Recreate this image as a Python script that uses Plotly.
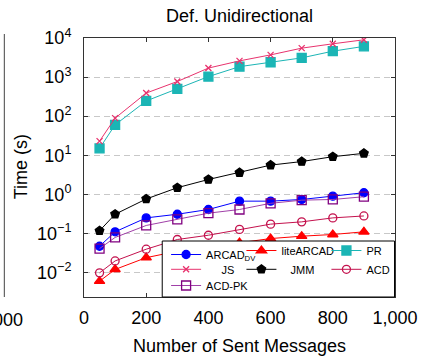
import plotly.graph_objects as go

# ---------------- data ----------------
messages = [50, 100, 200, 300, 400, 500, 600, 700, 800, 900]
arcad_dv = [0.047, 0.11, 0.25, 0.31, 0.41, 0.67, 0.67, 0.74, 0.90, 1.10]
lite_arcad = [0.006, 0.012, 0.024, 0.035, 0.045, 0.058, 0.074, 0.085, 0.094, 0.11]
pr = [15, 60, 245, 500, 1030, 1850, 2400, 3100, 4600, 6100]
js = [23, 89, 390, 770, 1700, 2600, 3700, 5500, 7100, 9000]
jmm = [0.117, 0.31, 0.76, 1.48, 2.4, 3.6, 5.6, 6.9, 9.2, 11.2]
acd = [0.0098, 0.0198, 0.0395, 0.070, 0.090, 0.127, 0.173, 0.198, 0.25, 0.28]
acd_pk = [0.041, 0.079, 0.16, 0.23, 0.33, 0.41, 0.59, 0.71, 0.74, 0.87]

x_ticks = [0, 200, 400, 600, 800, 1000]
x_tick_labels = ["0", "200", "400", "600", "800", "1,000"]
y_ticks = [1e-2, 1e-1, 1e0, 1e1, 1e2, 1e3, 1e4]
y_tick_labels = ["10<sup>\u22122</sup>", "10<sup>\u22121</sup>", "10<sup>0</sup>",
                 "10<sup>1</sup>", "10<sup>2</sup>", "10<sup>3</sup>", "10<sup>4</sup>"]

# ---------------- geometry ----------------
W, H = 430, 357
L, R, T, B = 84, 24, 38, 60
PW, PH = W - L - R, H - T - B
def px(x):
    return (x - L) / PW
def py(y):
    return (H - B - y) / PH

FONT = "Liberation Sans, Arial, Helvetica, sans-serif"
NB = "\u00a0"

# legend grid (pixel positions of the marker in each legend cell)
COLS = [184, 262, 350]
ROWS = [250.5, 269.3, 285.5]
MARK_OFF = 15

series = [
    # values, line color, symbol, size, marker color, legend text, col, row, y-nudge
    (arcad_dv, "#0000ff", "circle", 8, "#0000ff", "ARCAD<sub>DV</sub>", 0, 0, 4),
    (lite_arcad, "#ff0000", "triangle-up", 9, "#ff0000", "liteARCAD", 1, 0, 0),
    (pr, "#1bb5b5", "square", 9, "#1bb5b5", "PR", 2, 0, 0),
    (js, "#e8336e", "x-thin", 6, "#e8336e", NB * 5 + "JS", 0, 1, 0),
    (jmm, "#000000", "pentagon", 9, "#000000", NB * 3 + "JMM", 1, 1, 0),
    (acd, "#c4114d", "circle-open", 8, "#c4114d", "ACD", 2, 1, 0),
    (acd_pk, "#a040a8", "square-open", 9, "#800080", "ACD-PK", 0, 2, 0),
]

fig = go.Figure()
legends = {}
for i, (vals, color, sym, size, mcol, ltext, c, r, dy) in enumerate(series):
    key = f"legend{i + 2}"
    fig.add_trace(go.Scatter(
        x=messages, y=vals, name=ltext, mode="lines+markers",
        line=dict(color=color, width=1),
        marker=dict(symbol=sym, size=size, color=mcol,
                    line=dict(color=mcol, width=1.3)),
        legend=key, showlegend=True,
    ))
    legends[key] = dict(
        bgcolor="rgba(0,0,0,0)", borderwidth=0,
        font=dict(family=FONT, size=11, color="#000"),
        orientation="v", xanchor="left", yanchor="middle",
        x=px(COLS[c] - MARK_OFF), y=py(ROWS[r] + dy),
        tracegroupgap=0, itemwidth=30,
    )

fig.update_layout(
    width=W, height=H,
    margin=dict(l=L, r=R, t=T, b=B),
    paper_bgcolor="white", plot_bgcolor="white",
    font=dict(family=FONT, size=18, color="#000"),
    title=dict(text="Def. Unidirectional", x=0.5, xref="paper",
               y=1 - 16 / H, yref="container", yanchor="middle", xanchor="center",
               font=dict(family=FONT, size=18, color="#000")),
    xaxis=dict(range=[0, 1000], tickvals=x_ticks, ticktext=x_tick_labels,
               showgrid=False, zeroline=False, showline=True, mirror="ticks",
               linecolor="#333", linewidth=1, ticks="inside", ticklen=4,
               tickcolor="#333", tickfont=dict(family=FONT, size=18), ticklabelstandoff=4),
    yaxis=dict(type="log", range=[-2.626, 4], tickvals=y_ticks, ticktext=y_tick_labels,
               showgrid=True, gridcolor="#c8c8c8", griddash="6px,4px", gridwidth=1,
               zeroline=False, showline=True, mirror="ticks",
               linecolor="#333", linewidth=1, ticks="inside", ticklen=4,
               tickcolor="#333", tickfont=dict(family=FONT, size=18), ticklabelstandoff=8),
    shapes=[
        dict(type="rect", xref="paper", yref="paper",
             x0=px(165), x1=px(405.5), y0=py(297), y1=py(241),
             line=dict(color="#000000", width=1), fillcolor="#ffffff",
             layer="above"),
        dict(type="line", xref="paper", yref="paper",
             x0=px(1.5), x1=px(1.5), y0=py(297), y1=py(34),
             line=dict(color="#444", width=1)),
    ],
    annotations=[
        dict(text="Number of Sent Messages", xref="paper", yref="paper",
             x=0.5, y=py(346), xanchor="center", yanchor="middle",
             showarrow=False, font=dict(family=FONT, size=18)),
        dict(text="Time (s)", xref="paper", yref="paper",
             x=px(19), y=py(167), xanchor="center", yanchor="middle",
             textangle=-90, showarrow=False, font=dict(family=FONT, size=18)),
        dict(text="1,000", xref="paper", yref="paper",
             x=px(23), y=py(320), xanchor="right", yanchor="middle",
             showarrow=False, font=dict(family=FONT, size=18)),
    ],
    **legends,
)

fig.write_html("out.html")
